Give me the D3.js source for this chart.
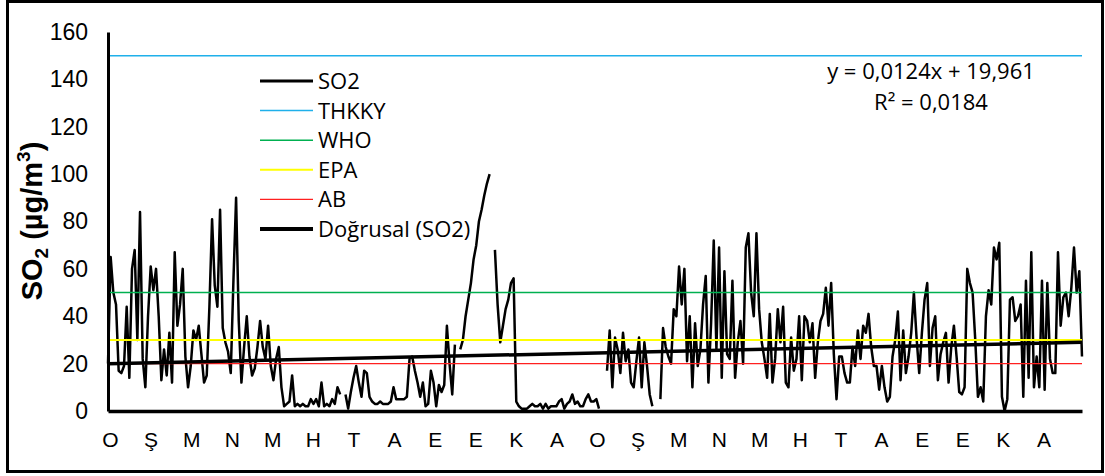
<!DOCTYPE html>
<html>
<head>
<meta charset="utf-8">
<script src="https://cdn.jsdelivr.net/npm/d3@7"></script>
<style>
  body { margin: 0; background: #fff; }
  svg { display: block; }
</style>
</head>
<body>
<svg id="chart" width="1105" height="476"></svg>
<script>
// Month initials along the time axis (two years, January to December)
const monthLabels = ["O","Ş","M","N","M","H","T","A","E","E","K","A",
                     "O","Ş","M","N","M","H","T","A","E","E","K","A"];
const yTicks = [0, 20, 40, 60, 80, 100, 120, 140, 160];

// SO2 concentration (µg/m3), one reading every second day; null = missing
const so2 = [
  20, 65, 50, 45, 17, 16, 19, 44, 14, 60,
  68, 30, 84, 22, 10, 40, 61, 51, 60, 40,
  13, 26, 15, 33, 12, 67, 36, 45, 60, 23,
  10, 19, 34, 30, 36, 24, 12, 15, 44, 81,
  53, 44, 85, 35, 29, 25, 16, 55, 90, 38,
  12, 27, 40, 23, 15, 18, 27, 38, 27, 22,
  36, 19, 13, 22, 27, 10, 2, 3, 4, 15,
  2, 3, 2, 3, 2, 2, 5, 3, 5, 2,
  12, 2, 3, 2, 5, 3, 10, 7, null, 7,
  1, 8, 14, 19, 12, 6, 17, 16, 6, 4,
  3, 3, 4, 3, 3, 3, 4, 10, 5, 5,
  5, 5, 6, 22, 23, 17, 12, 6, 12, 2,
  3, 17, 12, 2, 11, 8, 11, 36, 20, 7,
  28, null, 26, 30, 40, 47, 54, 64, 70, 80,
  85, 91, 96, 100, null, 68, 45, 29, 36, 43,
  47, 54, 56, 4, 2, 1, 1, 1, 2, 3,
  2, 2, 3, 1, 3, 1, 2, 2, 2, 4,
  5, 1, 3, 4, 7, 3, 4, 2, 2, 5,
  7, 4, 4, 5, 1, null, null, 17, 34, 10,
  31, 26, 16, 33, 21, 26, 12, 10, 21, 31,
  10, 29, 19, 7, 2, null, null, 5, 35, 27,
  23, 20, 43, 40, 61, 45, 60, 21, 40, 10,
  37, 19, 26, 45, 57, 12, 37, 72, 26, 69,
  14, 59, 24, 22, 55, 14, 29, 38, 20, 69,
  75, 50, 40, 75, 43, 29, 22, 14, 41, 12,
  22, 43, 29, 44, 12, 10, 31, 17, 22, 40,
  13, 40, 38, 29, 37, 14, 29, 38, 41, 52,
  36, 54, 24, 5, 23, 23, 16, 12, 12, 27,
  19, 34, 22, 36, 33, 41, 27, 19, 19, 9,
  19, 10, 4, 6, 23, 30, 42, 13, 34, 16,
  23, 33, 50, 31, 16, 33, 47, 54, 19, 35,
  40, 13, 24, 29, 33, 12, 27, 36, 23, 8,
  7, 10, 60, 54, 50, 30, 6, 10, 4, 40,
  51, 45, 69, 64, 71, 6, 0, 5, 47, 48,
  38, 40, 45, 6, 55, 14, 67, 10, 23, 10,
  55, 9, 54, 22, 16, 16, 67, 36, 48, 50,
  40, 52, 69, 50, 59, 23
];
const stepDays = 2;
const totalDays = 730;

// Limit values (µg/m3)
const limitNames = ["THKKY", "WHO", "EPA", "AB"];
const limitValues = [150, 50, 30, 20];

// Linear trend of the SO2 series
const trendSlope = 0.0124;
const trendIntercept = 19.961;
const trendR2 = 0.0184;

// ---- styling ----
const limitColor = { THKKY: "#1fb0ea", WHO: "#00b050", EPA: "#ffff00", AB: "#ff2020" };
const limitWidth = { THKKY: 1.5, WHO: 1.6, EPA: 2, AB: 1.2 };
const numFont = "'Liberation Sans', Arial, sans-serif";
const textFont = "'Open Sans', 'Noto Sans', sans-serif";

const svg = d3.select("#chart");
const W = 1105, H = 476;
const plot = { left: 108, right: 1082, top: 32, bottom: 411 };

svg.append("rect").attr("width", W).attr("height", H).attr("fill", "#fff");

const x = d3.scaleLinear().domain([0, totalDays]).range([plot.left, plot.right]);
const y = d3.scaleLinear().domain([0, 160]).range([plot.bottom, plot.top]);

// SO2 series
const points = so2.map((v, i) => ({ day: i * stepDays, v }));
const line = d3.line()
  .defined(d => d.v !== null)
  .x(d => x(d.day))
  .y(d => y(d.v));

svg.append("path")
  .datum(points)
  .attr("fill", "none")
  .attr("stroke", "#000")
  .attr("stroke-width", 2.5)
  .attr("stroke-linejoin", "round")
  .attr("d", line);

// Limit lines
limitNames.forEach((name, k) => {
  svg.append("line")
    .attr("x1", x(0)).attr("x2", x(totalDays))
    .attr("y1", y(limitValues[k])).attr("y2", y(limitValues[k]))
    .attr("stroke", limitColor[name])
    .attr("stroke-width", limitWidth[name]);
});

// Linear trend
const trendDays = [0, totalDays];
svg.append("path")
  .datum(trendDays.map(d => ({ day: d, v: trendIntercept + trendSlope * (d + 1) })))
  .attr("fill", "none")
  .attr("stroke", "#000")
  .attr("stroke-width", 3.5)
  .attr("d", d3.line().x(d => x(d.day)).y(d => y(d.v)));

// Axes
const yAxis = d3.axisLeft(y).tickValues(yTicks).tickSize(0).tickSizeOuter(0).tickPadding(20);
const gy = svg.append("g").attr("transform", `translate(${plot.left},0)`).call(yAxis);
gy.select(".domain").attr("stroke", "#000").attr("stroke-width", 3);
gy.selectAll("text").attr("font-family", numFont).attr("font-size", 23).attr("fill", "#000");

const monthStarts = monthLabels.map((m, i) => i * totalDays / 24);
const xAxis = d3.axisBottom(x).tickValues(monthStarts)
  .tickFormat((d, i) => monthLabels[i]).tickSize(0).tickSizeOuter(0).tickPadding(21);
const gx = svg.append("g").attr("transform", `translate(0,${plot.bottom})`).call(xAxis);
gx.select(".domain").attr("stroke", "#000").attr("stroke-width", 3.5);
gx.selectAll("text").attr("font-family", numFont).attr("font-size", 21).attr("fill", "#000")
  .attr("dx", 2);

// Y axis title
const title = svg.append("text")
  .attr("transform", "translate(42,221) rotate(-90)")
  .attr("text-anchor", "middle")
  .attr("font-family", numFont)
  .attr("font-weight", "bold")
  .attr("font-size", 29)
  .attr("fill", "#000");
title.append("tspan").text("SO");
title.append("tspan").attr("font-size", 19).attr("dy", 6).text("2");
title.append("tspan").attr("dy", -6).text(" (µg/m");
title.append("tspan").attr("font-size", 19).attr("dy", -12).text("3");
title.append("tspan").attr("dy", 12).text(")");

// Legend
const legendItems = [
  { label: "SO2", color: "#000", width: 3 },
  ...limitNames.map(n => ({ label: n, color: limitColor[n], width: limitWidth[n] })),
  { label: "Doğrusal (SO2)", color: "#000", width: 4 }
];
const lg = svg.append("g");
legendItems.forEach((it, k) => {
  const cy = 81 + k * 29.6;
  lg.append("line").attr("x1", 260).attr("x2", 313).attr("y1", cy).attr("y2", cy)
    .attr("stroke", it.color).attr("stroke-width", it.width);
  lg.append("text").attr("x", 318).attr("y", cy + 8)
    .attr("font-family", textFont).attr("font-size", 22).attr("fill", "#000")
    .text(it.label);
});

// Trend equation
const fmt = v => String(v).replace(".", ",");
svg.append("text").attr("x", 931).attr("y", 79).attr("text-anchor", "middle")
  .attr("font-family", textFont).attr("font-size", 22)
  .text(`y = ${fmt(trendSlope)}x + ${fmt(trendIntercept)}`);
svg.append("text").attr("x", 931).attr("y", 110).attr("text-anchor", "middle")
  .attr("font-family", textFont).attr("font-size", 22)
  .text(`R² = ${fmt(trendR2)}`);

// Chart border
svg.append("rect").attr("x", 7.5).attr("y", 1.5).attr("width", 1095).attr("height", 470)
  .attr("fill", "none").attr("stroke", "#000").attr("stroke-width", 3);
</script>
</body>
</html>
